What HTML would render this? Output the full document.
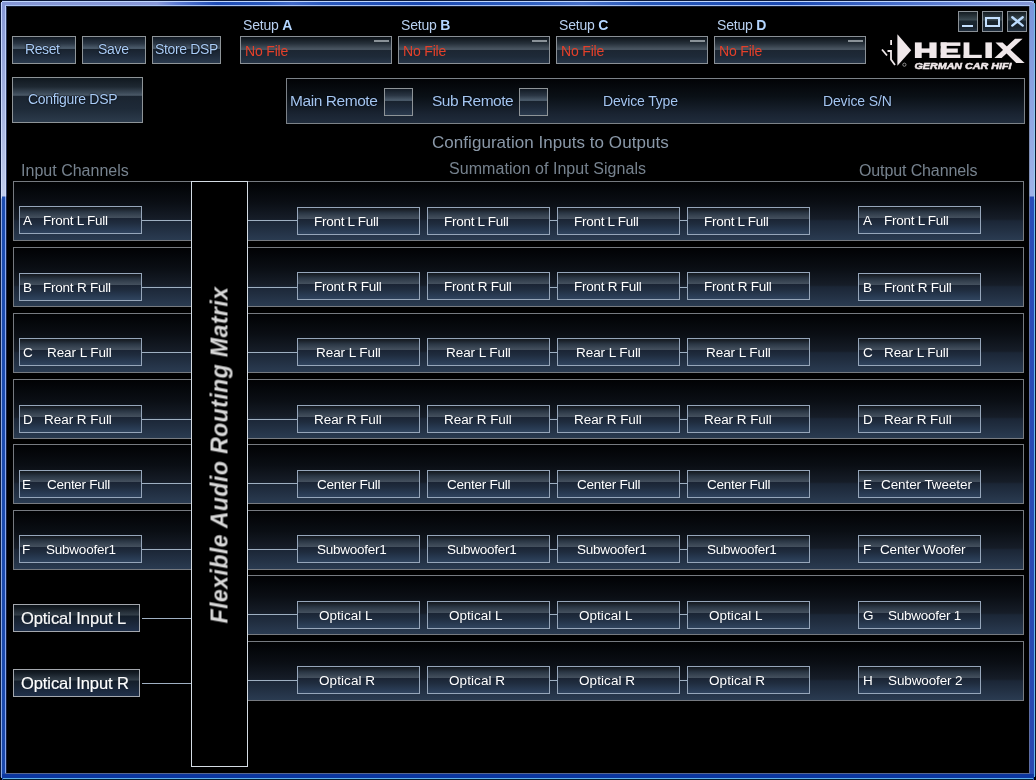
<!DOCTYPE html><html><head><meta charset="utf-8"><title>HELIX DSP</title><style>
*{margin:0;padding:0;box-sizing:border-box}
html,body{width:1036px;height:780px;overflow:hidden;background:#000;font-family:"Liberation Sans",sans-serif}
.a{position:absolute}
.t{position:absolute;white-space:nowrap;line-height:1;font-family:"Liberation Sans",sans-serif;will-change:transform}
.g{text-shadow:0 0 2px #000814,0 0 1px #000814}
.btn{position:absolute;border:1px solid #8e9498;background:linear-gradient(to bottom,#121a24 0%,#2a3644 25%,#4e5e6e 44%,#18222e 46%,#1e2a3a 70%,#2a3a4e 100%)}
.row{position:absolute;height:60px;border:1px solid #767a80;background:linear-gradient(to bottom,#010204 0%,#0a0e14 35%,#161d28 64%,#1b2636 67%,#2a3b51 100%)}
.ch{position:absolute;height:28px;width:123px;border:1px solid #96a6ba;background:linear-gradient(to bottom,#13181e 0px,#1c232c 2px,#2a3644 5px,#384452 8px,#44505e 10.9px,#1a2434 11.1px,#1f2c3e 16px,#283a52 22px,#30445e 26px)}
.op{border-color:#a4a8ae;background:linear-gradient(to bottom,#0c1218 0px,#141c24 3px,#26303a 7px,#34404a 10.4px,#141e2a 10.6px,#182434 16px,#20304a 26px)}
.hl{position:absolute;height:1px;background:#9fb0c2}
.fb{position:absolute;top:36px;height:28px;width:152px;border:1px solid #8a9096;background:linear-gradient(to bottom,#0c1218 0%,#26303a 25%,#4c5864 48%,#1c2632 49%,#1e2a38 75%,#263446 100%)}
.fb i{position:absolute;left:133px;top:3px;width:15px;height:2px;background:#8a9298}
.wb{position:absolute;top:11px;width:20px;height:21px;border:1px solid #8a9096;background:linear-gradient(to bottom,#141c22 0%,#3a4850 40%,#1a2630 50%,#18222c 80%,#223040 100%)}
</style></head><body>
<div class="a" style="left:0px;top:3px;width:1px;height:774px;background:#0c1a40"></div>
<div class="a" style="left:1px;top:2px;width:1px;height:776px;background:linear-gradient(to bottom,#c4d4fc 0,#d0dcf8 196px,#90a8e0 197px,#88a8e4 100%)"></div>
<div class="a" style="left:2px;top:0px;width:1px;height:780px;background:linear-gradient(to bottom,#8496d4 0,#c0ccec 196px,#1c4cb0 197px,#1a48ac 100%)"></div>
<div class="a" style="left:3px;top:0px;width:1px;height:780px;background:linear-gradient(to bottom,#8496d4 0,#c0ccec 196px,#1c4cb0 197px,#1a48ac 100%)"></div>
<div class="a" style="left:4px;top:0px;width:1px;height:780px;background:linear-gradient(to bottom,#8496d4 0,#c0ccec 196px,#1c4cb0 197px,#1a48ac 100%)"></div>
<div class="a" style="left:5px;top:0px;width:1px;height:780px;background:linear-gradient(to bottom,#b8ccfa 0,#d0dcf8 196px,#88a8f0 197px,#86a6ee 100%)"></div>
<div class="a" style="left:6px;top:0px;width:1px;height:780px;background:linear-gradient(to bottom,#2a3658 0,#303c64 196px,#1a2448 197px,#141c3c 100%)"></div>
<div class="a" style="left:1029px;top:0px;width:1px;height:780px;background:linear-gradient(to bottom,#7080a8 0,#8090b8 196px,#6070a8 197px,#5c6ca4 100%)"></div>
<div class="a" style="left:1030px;top:0px;width:1px;height:780px;background:linear-gradient(to bottom,#7894dc 0,#a0b4e8 196px,#2a4cb8 197px,#2848b0 100%)"></div>
<div class="a" style="left:1031px;top:0px;width:1px;height:780px;background:linear-gradient(to bottom,#7894dc 0,#a0b4e8 196px,#2a4cb8 197px,#2848b0 100%)"></div>
<div class="a" style="left:1032px;top:0px;width:1px;height:780px;background:linear-gradient(to bottom,#7894dc 0,#a0b4e8 196px,#2a4cb8 197px,#2848b0 100%)"></div>
<div class="a" style="left:1033px;top:0px;width:1px;height:780px;background:linear-gradient(to bottom,#7894dc 0,#a0b4e8 196px,#2a4cb8 197px,#2848b0 100%)"></div>
<div class="a" style="left:1034px;top:3px;width:1px;height:774px;background:linear-gradient(to bottom,#70b8e8 0,#a0d0f4 196px,#68b8f0 197px,#62b2ec 100%)"></div>
<div class="a" style="left:1035px;top:4px;width:1px;height:772px;background:#0a1830"></div>
<div class="a" style="left:2px;top:0px;width:1032px;height:1px;background:#0c1a3a"></div>
<div class="a" style="left:2px;top:1px;width:1030px;height:1px;background:#c0d6fc"></div>
<div class="a" style="left:1032px;top:2px;width:2px;height:1px;background:#a8c0f0"></div>
<div class="a" style="left:2px;top:2px;width:1030px;height:1px;background:linear-gradient(to right,#8496d4 0,#8898d8 155px,#5a78d0 175px,#1c4ab4 215px,#2a58bc 265px,#4068c8 290px,#2a58bc 320px,#1a48b0 420px,#3060c0 530px,#4870c8 580px,#2858b8 640px,#1a48b0 790px,#4a70cc 900px,#7a90d8 1000px,#8496d4 1036px)"></div>
<div class="a" style="left:2px;top:3px;width:1032px;height:1px;background:linear-gradient(to right,#8496d4 0,#8898d8 155px,#5a78d0 175px,#1c4ab4 215px,#2a58bc 265px,#4068c8 290px,#2a58bc 320px,#1a48b0 420px,#3060c0 530px,#4870c8 580px,#2858b8 640px,#1a48b0 790px,#4a70cc 900px,#7a90d8 1000px,#8496d4 1036px)"></div>
<div class="a" style="left:2px;top:4px;width:1032px;height:1px;background:linear-gradient(to right,#8496d4 0,#8898d8 155px,#5a78d0 175px,#1c4ab4 215px,#2a58bc 265px,#4068c8 290px,#2a58bc 320px,#1a48b0 420px,#3060c0 530px,#4870c8 580px,#2858b8 640px,#1a48b0 790px,#4a70cc 900px,#7a90d8 1000px,#8496d4 1036px)"></div>
<div class="a" style="left:5px;top:5px;width:1025px;height:1px;background:#a8c2f2"></div>
<div class="a" style="left:6px;top:6px;width:1023px;height:1px;background:#141c30"></div>
<div class="a" style="left:5px;top:773px;width:1025px;height:1px;background:#586890"></div>
<div class="a" style="left:2px;top:774px;width:1032px;height:1px;background:#0c36a0"></div>
<div class="a" style="left:2px;top:775px;width:1032px;height:1px;background:#0c36a0"></div>
<div class="a" style="left:2px;top:776px;width:1032px;height:1px;background:#0c36a0"></div>
<div class="a" style="left:2px;top:777px;width:1032px;height:1px;background:#0c36a0"></div>
<div class="a" style="left:3px;top:778px;width:1030px;height:1px;background:#60b0e8"></div>
<div class="a" style="left:3px;top:779px;width:1030px;height:1px;background:#002030"></div>
<div class="a" style="left:7px;top:7px;width:1022px;height:766px;background:#000"></div>
<div class="btn" style="left:12px;top:36px;width:64px;height:28px"></div>
<div class="btn" style="left:82px;top:36px;width:64px;height:28px"></div>
<div class="btn" style="left:152px;top:36px;width:69px;height:28px"></div>
<div class="btn" style="left:12px;top:77px;width:131px;height:46px;background:linear-gradient(to bottom,#10181f 0%,#1e2832 20%,#3c4a58 34%,#4c5b69 39.5%,#1a2430 40.5%,#1e2a38 70%,#2c3b4c 100%)"></div>
<div class="t g" style="left:25.17px;top:42px;font-size:14px;color:#aacdf6;letter-spacing:-0.420px">Reset</div>
<div class="t g" style="left:97.89px;top:42px;font-size:14px;color:#aacdf6;letter-spacing:-0.330px">Save</div>
<div class="t g" style="left:154.59px;top:42px;font-size:14px;color:#aacdf6;letter-spacing:-0.363px">Store DSP</div>
<div class="t g" style="left:28.30px;top:92px;font-size:14px;color:#aacdf6;letter-spacing:-0.322px">Configure DSP</div>
<div class="t" style="left:242.5px;top:18px;font-size:14px;color:#b8d0f0;letter-spacing:-0.2px">Setup <b style="color:#b4d6ff">A</b></div>
<div class="fb" style="left:240px"><i></i></div>
<div class="t" style="left:244.57px;top:44px;font-size:14px;color:#e4402a;letter-spacing:-0.175px">No File</div>
<div class="t" style="left:400.5px;top:18px;font-size:14px;color:#b8d0f0;letter-spacing:-0.2px">Setup <b style="color:#b4d6ff">B</b></div>
<div class="fb" style="left:398px"><i></i></div>
<div class="t" style="left:402.57px;top:44px;font-size:14px;color:#e4402a;letter-spacing:-0.175px">No File</div>
<div class="t" style="left:558.5px;top:18px;font-size:14px;color:#b8d0f0;letter-spacing:-0.2px">Setup <b style="color:#b4d6ff">C</b></div>
<div class="fb" style="left:556px"><i></i></div>
<div class="t" style="left:560.57px;top:44px;font-size:14px;color:#e4402a;letter-spacing:-0.175px">No File</div>
<div class="t" style="left:716.5px;top:18px;font-size:14px;color:#b8d0f0;letter-spacing:-0.2px">Setup <b style="color:#b4d6ff">D</b></div>
<div class="fb" style="left:714px"><i></i></div>
<div class="t" style="left:718.57px;top:44px;font-size:14px;color:#e4402a;letter-spacing:-0.175px">No File</div>
<div class="wb" style="left:958px"><div class="a" style="left:3px;top:13px;width:11px;height:2px;background:#c4e0ff"></div></div>
<div class="wb" style="left:982px;width:21px"><div class="a" style="left:2px;top:5px;width:15px;height:10px;border:2px solid #c4e0ff"></div></div>
<div class="wb" style="left:1007px"><svg class="a" style="left:-1px;top:-1px" width="20" height="21"><path d="M5.3 6.3 L15.7 14.6 M15.7 6.3 L5.3 14.6" stroke="#bcdcff" stroke-width="2.4" stroke-linecap="round"/></svg></div>
<svg class="a" style="left:876px;top:30px;will-change:transform" width="152" height="45" viewBox="0 0 152 45">
<g fill="#f0e8ea">
<polygon points="21.4,4.2 35.2,20.3 21.4,35.7"/>
<rect x="14.2" y="10" width="1.8" height="5"/>
<path d="M6 19.5 L11 25.5" stroke="#f0e8ea" stroke-width="1.8" fill="none"/>
<path d="M11.5 21 L15 21 L15 29.5 L19 35" stroke="#f0e8ea" stroke-width="1.8" fill="none"/>
<circle cx="28.4" cy="34.7" r="1.6" fill="none" stroke="#9a9a9a" stroke-width="0.9"/>
<rect x="38.9" y="12.4" width="6.8" height="15.6"/><rect x="53.4" y="12.4" width="7.2" height="15.6"/><rect x="45" y="18.4" width="9" height="4.4"/>
<rect x="64.7" y="12.4" width="6" height="15.6"/><rect x="64.7" y="12.4" width="19.7" height="3.5"/><rect x="64.7" y="18.5" width="17.1" height="4.2"/><rect x="64.7" y="24.6" width="19.7" height="3.4"/>
<rect x="87.6" y="12.4" width="5.8" height="15.6"/><rect x="87.6" y="24.8" width="18.2" height="3.2"/>
<rect x="109.4" y="12.4" width="6.5" height="15.6"/>
<polygon points="119.5,12.6 126.6,12.6 148.6,33 140.2,33"/>
<polygon points="139,8.7 146.6,8.7 125.6,28 118.4,28"/>
</g>
<text x="38.5" y="39.4" font-family="Liberation Sans" font-weight="bold" font-style="italic" font-size="8.2" fill="#f0e8ea" stroke="#f0e8ea" stroke-width="0.45" textLength="97" lengthAdjust="spacingAndGlyphs">GERMAN CAR HIFI</text>
</svg>
<div class="a" style="left:286px;top:78px;width:739px;height:46px;border:1px solid #7c8288;background:linear-gradient(to bottom,#020306 0%,#0a1016 40%,#1a2432 80%,#202c3c 100%)"></div>
<div class="btn" style="left:384px;top:88px;width:29px;height:28px"></div>
<div class="btn" style="left:519px;top:88px;width:29px;height:28px"></div>
<div class="t g" style="left:289.87px;top:93px;font-size:15.5px;color:#a4c6f0;letter-spacing:-0.432px">Main Remote</div>
<div class="t g" style="left:431.59px;top:93px;font-size:15.5px;color:#a4c6f0;letter-spacing:-0.505px">Sub Remote</div>
<div class="t g" style="left:603.47px;top:94px;font-size:14px;color:#a4c6f0;letter-spacing:-0.177px">Device Type</div>
<div class="t g" style="left:823.47px;top:94px;font-size:14px;color:#a4c6f0;letter-spacing:-0.139px">Device S/N</div>
<div class="t" style="left:432.00px;top:134px;font-size:17px;color:#8a98a8;letter-spacing:0.045px">Configuration Inputs to Outputs</div>
<div class="t" style="left:448.58px;top:161px;font-size:16px;color:#76828e;letter-spacing:0.057px">Summation of Input Signals</div>
<div class="t" style="left:21.37px;top:163px;font-size:16px;color:#76828e;letter-spacing:0.017px">Input Channels</div>
<div class="t" style="left:859.44px;top:163px;font-size:16px;color:#76828e;letter-spacing:-0.120px">Output Channels</div>
<div class="row" style="left:13px;top:181px;width:1011px"></div>
<div class="hl" style="left:142px;top:220px;width:50px"></div>
<div class="hl" style="left:248px;top:220px;width:50px"></div>
<div class="hl" style="left:550px;top:220px;width:7px"></div>
<div class="hl" style="left:680px;top:220px;width:7px"></div>
<div class="ch" style="left:19px;top:206px"></div>
<div class="t" style="left:22.50px;top:214px;font-size:13.5px;color:#fff">A</div>
<div class="t" style="left:43.41px;top:214px;font-size:13.5px;color:#fff;letter-spacing:-0.261px">Front L Full</div>
<div class="ch" style="left:297px;top:207px"></div>
<div class="t" style="left:313.51px;top:215px;font-size:13.5px;color:#fff;letter-spacing:-0.280px">Front L Full</div>
<div class="ch" style="left:427px;top:207px"></div>
<div class="t" style="left:443.51px;top:215px;font-size:13.5px;color:#fff;letter-spacing:-0.280px">Front L Full</div>
<div class="ch" style="left:557px;top:207px"></div>
<div class="t" style="left:573.51px;top:215px;font-size:13.5px;color:#fff;letter-spacing:-0.280px">Front L Full</div>
<div class="ch" style="left:687px;top:207px"></div>
<div class="t" style="left:703.51px;top:215px;font-size:13.5px;color:#fff;letter-spacing:-0.280px">Front L Full</div>
<div class="ch" style="left:858px;top:206px"></div>
<div class="t" style="left:862.50px;top:214px;font-size:13.5px;color:#fff">A</div>
<div class="t" style="left:883.51px;top:214px;font-size:13.5px;color:#fff;letter-spacing:-0.271px">Front L Full</div>
<div class="row" style="left:13px;top:247px;width:1011px"></div>
<div class="hl" style="left:142px;top:287px;width:50px"></div>
<div class="hl" style="left:248px;top:287px;width:50px"></div>
<div class="hl" style="left:550px;top:287px;width:7px"></div>
<div class="hl" style="left:680px;top:287px;width:7px"></div>
<div class="ch" style="left:19px;top:273px"></div>
<div class="t" style="left:22.51px;top:281px;font-size:13.5px;color:#fff">B</div>
<div class="t" style="left:43.31px;top:281px;font-size:13.5px;color:#fff;letter-spacing:-0.223px">Front R Full</div>
<div class="ch" style="left:297px;top:272px"></div>
<div class="t" style="left:313.51px;top:280px;font-size:13.5px;color:#fff;letter-spacing:-0.259px">Front R Full</div>
<div class="ch" style="left:427px;top:272px"></div>
<div class="t" style="left:443.51px;top:280px;font-size:13.5px;color:#fff;letter-spacing:-0.259px">Front R Full</div>
<div class="ch" style="left:557px;top:272px"></div>
<div class="t" style="left:573.51px;top:280px;font-size:13.5px;color:#fff;letter-spacing:-0.259px">Front R Full</div>
<div class="ch" style="left:687px;top:272px"></div>
<div class="t" style="left:703.51px;top:280px;font-size:13.5px;color:#fff;letter-spacing:-0.259px">Front R Full</div>
<div class="ch" style="left:858px;top:273px"></div>
<div class="t" style="left:862.51px;top:281px;font-size:13.5px;color:#fff">B</div>
<div class="t" style="left:883.51px;top:281px;font-size:13.5px;color:#fff;letter-spacing:-0.241px">Front R Full</div>
<div class="row" style="left:13px;top:313px;width:1011px"></div>
<div class="hl" style="left:142px;top:352px;width:50px"></div>
<div class="hl" style="left:248px;top:352px;width:50px"></div>
<div class="hl" style="left:550px;top:352px;width:7px"></div>
<div class="hl" style="left:680px;top:352px;width:7px"></div>
<div class="ch" style="left:19px;top:338px"></div>
<div class="t" style="left:22.94px;top:346px;font-size:13.5px;color:#fff">C</div>
<div class="t" style="left:46.61px;top:346px;font-size:13.5px;color:#fff;letter-spacing:-0.075px">Rear L Full</div>
<div class="ch" style="left:297px;top:338px"></div>
<div class="t" style="left:316.41px;top:346px;font-size:13.5px;color:#fff;letter-spacing:-0.065px">Rear L Full</div>
<div class="ch" style="left:427px;top:338px"></div>
<div class="t" style="left:446.41px;top:346px;font-size:13.5px;color:#fff;letter-spacing:-0.065px">Rear L Full</div>
<div class="ch" style="left:557px;top:338px"></div>
<div class="t" style="left:576.41px;top:346px;font-size:13.5px;color:#fff;letter-spacing:-0.065px">Rear L Full</div>
<div class="ch" style="left:687px;top:338px"></div>
<div class="t" style="left:706.41px;top:346px;font-size:13.5px;color:#fff;letter-spacing:-0.065px">Rear L Full</div>
<div class="ch" style="left:858px;top:338px"></div>
<div class="t" style="left:862.94px;top:346px;font-size:13.5px;color:#fff">C</div>
<div class="t" style="left:883.51px;top:346px;font-size:13.5px;color:#fff;letter-spacing:-0.075px">Rear L Full</div>
<div class="row" style="left:13px;top:379px;width:1011px"></div>
<div class="hl" style="left:142px;top:419px;width:50px"></div>
<div class="hl" style="left:248px;top:419px;width:50px"></div>
<div class="hl" style="left:550px;top:419px;width:7px"></div>
<div class="hl" style="left:680px;top:419px;width:7px"></div>
<div class="ch" style="left:19px;top:405px"></div>
<div class="t" style="left:22.51px;top:413px;font-size:13.5px;color:#fff">D</div>
<div class="t" style="left:44.41px;top:413px;font-size:13.5px;color:#fff;letter-spacing:-0.042px">Rear R Full</div>
<div class="ch" style="left:297px;top:405px"></div>
<div class="t" style="left:313.51px;top:413px;font-size:13.5px;color:#fff;letter-spacing:-0.052px">Rear R Full</div>
<div class="ch" style="left:427px;top:405px"></div>
<div class="t" style="left:443.51px;top:413px;font-size:13.5px;color:#fff;letter-spacing:-0.052px">Rear R Full</div>
<div class="ch" style="left:557px;top:405px"></div>
<div class="t" style="left:573.51px;top:413px;font-size:13.5px;color:#fff;letter-spacing:-0.052px">Rear R Full</div>
<div class="ch" style="left:687px;top:405px"></div>
<div class="t" style="left:703.51px;top:413px;font-size:13.5px;color:#fff;letter-spacing:-0.052px">Rear R Full</div>
<div class="ch" style="left:858px;top:405px"></div>
<div class="t" style="left:862.51px;top:413px;font-size:13.5px;color:#fff">D</div>
<div class="t" style="left:884.41px;top:413px;font-size:13.5px;color:#fff;letter-spacing:-0.062px">Rear R Full</div>
<div class="row" style="left:13px;top:444px;width:1011px"></div>
<div class="hl" style="left:142px;top:483px;width:50px"></div>
<div class="hl" style="left:248px;top:483px;width:50px"></div>
<div class="hl" style="left:550px;top:483px;width:7px"></div>
<div class="hl" style="left:680px;top:483px;width:7px"></div>
<div class="ch" style="left:19px;top:470px"></div>
<div class="t" style="left:22.41px;top:478px;font-size:13.5px;color:#fff">E</div>
<div class="t" style="left:47.04px;top:478px;font-size:13.5px;color:#fff;letter-spacing:-0.287px">Center Full</div>
<div class="ch" style="left:297px;top:470px"></div>
<div class="t" style="left:316.94px;top:478px;font-size:13.5px;color:#fff;letter-spacing:-0.257px">Center Full</div>
<div class="ch" style="left:427px;top:470px"></div>
<div class="t" style="left:446.94px;top:478px;font-size:13.5px;color:#fff;letter-spacing:-0.257px">Center Full</div>
<div class="ch" style="left:557px;top:470px"></div>
<div class="t" style="left:576.94px;top:478px;font-size:13.5px;color:#fff;letter-spacing:-0.257px">Center Full</div>
<div class="ch" style="left:687px;top:470px"></div>
<div class="t" style="left:706.94px;top:478px;font-size:13.5px;color:#fff;letter-spacing:-0.257px">Center Full</div>
<div class="ch" style="left:858px;top:470px"></div>
<div class="t" style="left:862.51px;top:478px;font-size:13.5px;color:#fff">E</div>
<div class="t" style="left:880.94px;top:478px;font-size:13.5px;color:#fff;letter-spacing:-0.087px">Center Tweeter</div>
<div class="row" style="left:13px;top:510px;width:1011px"></div>
<div class="hl" style="left:142px;top:549px;width:50px"></div>
<div class="hl" style="left:248px;top:549px;width:50px"></div>
<div class="hl" style="left:550px;top:549px;width:7px"></div>
<div class="hl" style="left:680px;top:549px;width:7px"></div>
<div class="ch" style="left:19px;top:535px"></div>
<div class="t" style="left:22.41px;top:543px;font-size:13.5px;color:#fff">F</div>
<div class="t" style="left:45.66px;top:543px;font-size:13.5px;color:#fff;letter-spacing:-0.230px">Subwoofer1</div>
<div class="ch" style="left:297px;top:535px"></div>
<div class="t" style="left:316.56px;top:543px;font-size:13.5px;color:#fff;letter-spacing:-0.241px">Subwoofer1</div>
<div class="ch" style="left:427px;top:535px"></div>
<div class="t" style="left:446.56px;top:543px;font-size:13.5px;color:#fff;letter-spacing:-0.241px">Subwoofer1</div>
<div class="ch" style="left:557px;top:535px"></div>
<div class="t" style="left:576.56px;top:543px;font-size:13.5px;color:#fff;letter-spacing:-0.241px">Subwoofer1</div>
<div class="ch" style="left:687px;top:535px"></div>
<div class="t" style="left:706.56px;top:543px;font-size:13.5px;color:#fff;letter-spacing:-0.241px">Subwoofer1</div>
<div class="ch" style="left:858px;top:535px"></div>
<div class="t" style="left:862.51px;top:543px;font-size:13.5px;color:#fff">F</div>
<div class="t" style="left:880.34px;top:543px;font-size:13.5px;color:#fff;letter-spacing:-0.164px">Center Woofer</div>
<div class="row" style="left:247px;top:575px;width:777px"></div>
<div class="hl" style="left:142px;top:618px;width:50px"></div>
<div class="hl" style="left:248px;top:614px;width:50px"></div>
<div class="hl" style="left:550px;top:614px;width:7px"></div>
<div class="hl" style="left:680px;top:614px;width:7px"></div>
<div class="ch op" style="left:13px;top:604px;width:127px"></div>
<div class="t" style="left:21.23px;top:610px;font-size:16.5px;color:#f8f8f8;letter-spacing:-0.080px;-webkit-text-stroke:0.2px #f8f8f8">Optical Input L</div>
<div class="ch" style="left:297px;top:601px"></div>
<div class="t" style="left:319.38px;top:609px;font-size:13.5px;color:#fff;letter-spacing:0.034px">Optical L</div>
<div class="ch" style="left:427px;top:601px"></div>
<div class="t" style="left:449.38px;top:609px;font-size:13.5px;color:#fff;letter-spacing:0.034px">Optical L</div>
<div class="ch" style="left:557px;top:601px"></div>
<div class="t" style="left:579.38px;top:609px;font-size:13.5px;color:#fff;letter-spacing:0.034px">Optical L</div>
<div class="ch" style="left:687px;top:601px"></div>
<div class="t" style="left:709.38px;top:609px;font-size:13.5px;color:#fff;letter-spacing:0.034px">Optical L</div>
<div class="ch" style="left:858px;top:601px"></div>
<div class="t" style="left:863.05px;top:609px;font-size:13.5px;color:#fff">G</div>
<div class="t" style="left:887.56px;top:609px;font-size:13.5px;color:#fff;letter-spacing:-0.256px">Subwoofer 1</div>
<div class="row" style="left:247px;top:641px;width:777px"></div>
<div class="hl" style="left:142px;top:683px;width:50px"></div>
<div class="hl" style="left:248px;top:680px;width:50px"></div>
<div class="hl" style="left:550px;top:680px;width:7px"></div>
<div class="hl" style="left:680px;top:680px;width:7px"></div>
<div class="ch op" style="left:13px;top:669px;width:127px"></div>
<div class="t" style="left:21.23px;top:675px;font-size:16.5px;color:#fff;letter-spacing:-0.085px;-webkit-text-stroke:0.2px #f8f8f8">Optical Input R</div>
<div class="ch" style="left:297px;top:666px"></div>
<div class="t" style="left:319.38px;top:674px;font-size:13.5px;color:#fff;letter-spacing:0.075px">Optical R</div>
<div class="ch" style="left:427px;top:666px"></div>
<div class="t" style="left:449.38px;top:674px;font-size:13.5px;color:#fff;letter-spacing:0.075px">Optical R</div>
<div class="ch" style="left:557px;top:666px"></div>
<div class="t" style="left:579.38px;top:674px;font-size:13.5px;color:#fff;letter-spacing:0.075px">Optical R</div>
<div class="ch" style="left:687px;top:666px"></div>
<div class="t" style="left:709.38px;top:674px;font-size:13.5px;color:#fff;letter-spacing:0.075px">Optical R</div>
<div class="ch" style="left:858px;top:666px"></div>
<div class="t" style="left:862.51px;top:674px;font-size:13.5px;color:#fff">H</div>
<div class="t" style="left:887.56px;top:674px;font-size:13.5px;color:#fff;letter-spacing:-0.126px">Subwoofer 2</div>
<div class="a" style="left:191px;top:181px;width:57px;height:586px;border:1px solid #d4dce4;background:#000"></div>
<div class="t" style="left:219.5px;top:455px;font-size:23px;font-weight:bold;font-style:italic;color:#d8d8d8;letter-spacing:0.45px;transform:translate(-50%,-50%) rotate(-90deg)">Flexible Audio Routing Matrix</div>
</body></html>
